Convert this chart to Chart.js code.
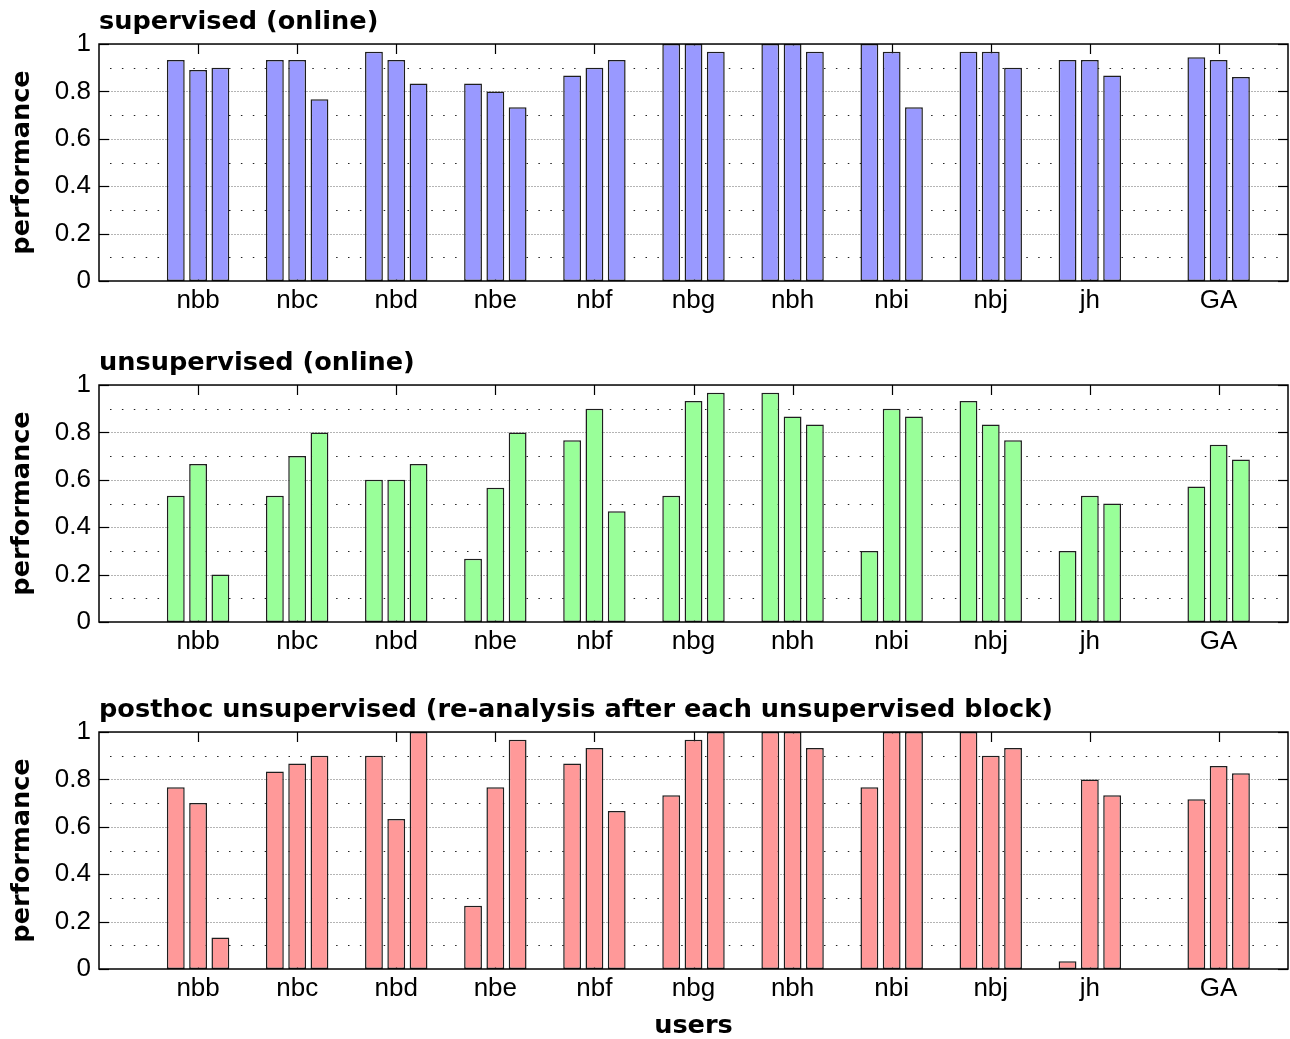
<!DOCTYPE html>
<html>
<head>
<title>Performance per user</title>
<script src="https://cdn.jsdelivr.net/npm/chart.js@4"></script>
<style>
  body { margin: 0; background: #fff; }
  canvas { position: absolute; left: 0; }
</style>
</head>
<body>
<canvas id="supervised" width="1290" height="331" style="top:0px"></canvas>
<canvas id="unsupervised" width="1290" height="331" style="top:341px"></canvas>
<canvas id="posthoc" width="1290" height="351" style="top:688px"></canvas>

<script>
// users on the x axis; GA sits a bit apart from the single users
const users = ['nbb', 'nbc', 'nbd', 'nbe', 'nbf', 'nbg', 'nbh', 'nbi', 'nbj', 'jh', 'GA'];
const userPos = [1, 2, 3, 4, 5, 6, 7, 8, 9, 10, 11.3];

// supervised (online), one array per block
const supBlock1 = [0.933, 0.933, 0.967, 0.833, 0.867, 1, 1, 1, 0.967, 0.933, 0.944];
const supBlock2 = [0.89, 0.933, 0.933, 0.8, 0.9, 1, 1, 0.967, 0.967, 0.933, 0.933];
const supBlock3 = [0.9, 0.767, 0.833, 0.733, 0.933, 0.967, 0.967, 0.733, 0.9, 0.867, 0.861];

// unsupervised (online)
const unsBlock1 = [0.533, 0.533, 0.6, 0.267, 0.767, 0.533, 0.967, 0.3, 0.933, 0.3, 0.572];
const unsBlock2 = [0.667, 0.7, 0.6, 0.567, 0.9, 0.933, 0.867, 0.9, 0.833, 0.533, 0.748];
const unsBlock3 = [0.2, 0.8, 0.667, 0.8, 0.467, 0.967, 0.833, 0.867, 0.767, 0.5, 0.686];

// posthoc unsupervised
const phBlock1 = [0.767, 0.833, 0.9, 0.267, 0.867, 0.733, 1, 0.767, 1, 0.033, 0.716];
const phBlock2 = [0.7, 0.867, 0.633, 0.767, 0.933, 0.967, 1, 1, 0.9, 0.8, 0.857];
const phBlock3 = [0.133, 0.9, 1, 0.967, 0.667, 1, 0.933, 1, 0.933, 0.733, 0.826];

const yTicks = [0, 0.2, 0.4, 0.6, 0.8, 1];

const tickFont = { family: '"Liberation Sans", Arial, sans-serif', size: 26 };
const boldFont = { family: '"DejaVu Sans", sans-serif', size: 25.6, weight: 'bold', lineHeight: 1.2 };

// matlab-like axes: dotted grid, inward ticks, closed box
const axesBox = {
    id: 'axesBox',
    beforeDatasetsDraw(chart) {
        const { ctx, chartArea: a, scales: { x, y } } = chart;
        const hline = (x1, x2, py) => {
            ctx.beginPath();
            ctx.moveTo(x1, py);
            ctx.lineTo(x2, py);
            ctx.stroke();
        };
        ctx.save();
        ctx.lineWidth = 1;

        // minor grid: sparse dots between the labelled values
        ctx.strokeStyle = '#222';
        ctx.setLineDash([1.5, 10.4]);
        for (let i = 0; i < yTicks.length - 1; i++) {
            const py = Math.round(y.getPixelForValue((yTicks[i] + yTicks[i + 1]) / 2)) + 0.5;
            hline(a.left + 11, a.right, py);
        }

        // major grid: fine grey dots
        ctx.strokeStyle = '#b4b4b4';
        ctx.setLineDash([2, 1]);
        yTicks.slice(1, -1).forEach(v => {
            const py = Math.round(y.getPixelForValue(v)) + 0.5;
            hline(a.left, a.right, py);
        });

        // inward tick marks
        ctx.setLineDash([]);
        ctx.strokeStyle = '#000';
        ctx.lineWidth = 1.2;
        yTicks.forEach(v => {
            const py = Math.round(y.getPixelForValue(v)) + 0.5;
            hline(a.left, a.left + 10, py);
            hline(a.right - 10, a.right, py);
        });
        userPos.forEach(v => {
            const px = Math.round(x.getPixelForValue(v)) + 0.5;
            ctx.beginPath();
            ctx.moveTo(px, a.top);
            ctx.lineTo(px, a.top + 10);
            ctx.moveTo(px, a.bottom);
            ctx.lineTo(px, a.bottom - 10);
            ctx.stroke();
        });
        ctx.restore();
    },
    afterDatasetsDraw(chart) {
        const { ctx, chartArea: a } = chart;
        ctx.save();
        ctx.strokeStyle = '#000';
        ctx.lineWidth = 1.5;
        ctx.strokeRect(a.left, a.top, a.right - a.left, a.bottom - a.top);
        ctx.restore();
    }
};

function makePanel(id, title, blocks, color, xTitle) {
    const datasets = blocks.map((values, b) => ({
        label: 'block ' + (b + 1),
        data: values.map((v, i) => ({ x: userPos[i], y: v })),
        backgroundColor: color,
        borderColor: '#1e1e1e',
        borderWidth: 1.5,
        borderSkipped: false,
        categoryPercentage: 0.675,
        barPercentage: 0.8
    }));

    return new Chart(document.getElementById(id), {
        type: 'bar',
        data: { datasets },
        plugins: [axesBox],
        options: {
            responsive: false,
            animation: false,
            events: [],
            layout: { padding: { left: 0, right: 2, top: 0, bottom: 0 } },
            plugins: {
                legend: { display: false },
                tooltip: { enabled: false },
                title: {
                    display: true,
                    text: title,
                    align: 'start',
                    fullSize: false,
                    color: '#000',
                    font: boldFont,
                    padding: { top: 6.5, bottom: 6.8 }
                }
            },
            scales: {
                x: {
                    type: 'linear',
                    min: 0,
                    max: 12,
                    offset: false,
                    grid: { display: false, drawTicks: false, offset: false },
                    border: { display: false },
                    afterBuildTicks: s => { s.ticks = userPos.map(v => ({ value: v })); },
                    afterFit: s => { s.height = xTitle ? 70 : 50; },
                    ticks: {
                        autoSkip: false,
                        maxRotation: 0,
                        padding: 4.5,
                        color: '#000',
                        font: tickFont,
                        callback: (v, i) => users[i]
                    },
                    title: {
                        display: !!xTitle,
                        text: xTitle,
                        color: '#000',
                        font: boldFont,
                        padding: { top: 0, bottom: -3 }
                    }
                },
                y: {
                    min: 0,
                    max: 1,
                    grid: { display: false, drawTicks: false },
                    border: { display: false },
                    afterFit: s => { s.width = 99; },
                    ticks: {
                        stepSize: 0.2,
                        padding: 8,
                        color: '#000',
                        font: tickFont,
                        callback: v => String(Number(v.toFixed(2)))
                    },
                    title: {
                        display: true,
                        text: 'performance',
                        color: '#000',
                        font: boldFont,
                        padding: { top: 7, bottom: 0 }
                    }
                }
            }
        }
    });
}

makePanel('supervised', 'supervised (online)', [supBlock1, supBlock2, supBlock3], 'rgb(153,153,255)');
makePanel('unsupervised', 'unsupervised (online)', [unsBlock1, unsBlock2, unsBlock3], 'rgb(153,255,153)');
makePanel('posthoc', 'posthoc unsupervised (re-analysis after each unsupervised block)', [phBlock1, phBlock2, phBlock3], 'rgb(255,153,153)', 'users');
</script>
</body>
</html>
